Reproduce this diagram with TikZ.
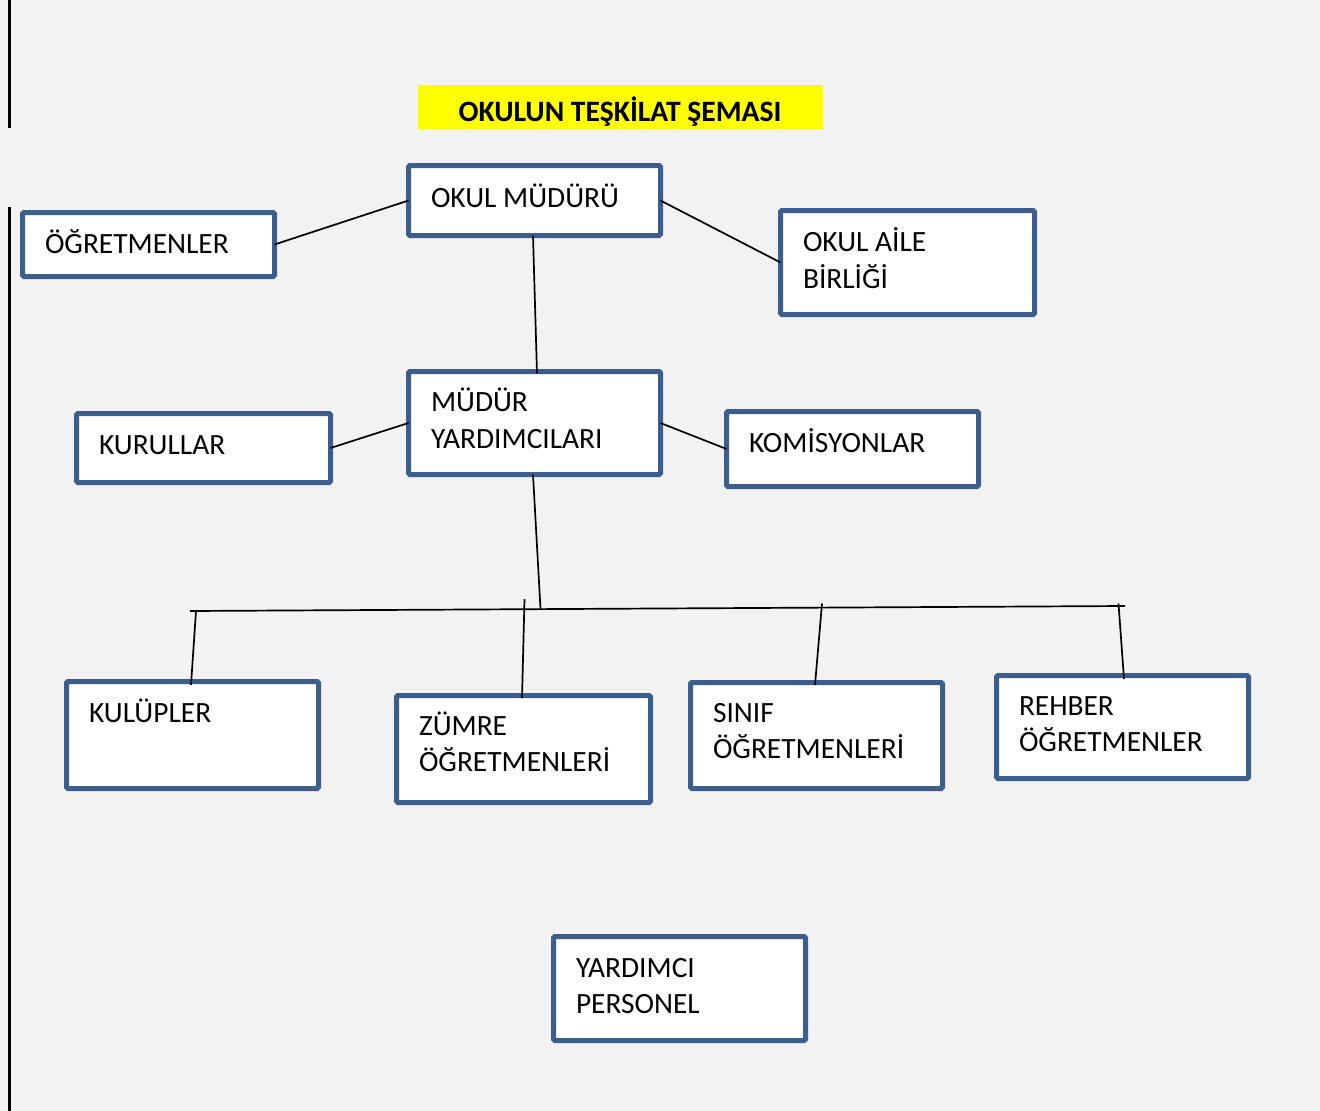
\documentclass[tikz,border=0pt]{standalone}
\usepackage{fontspec}
\setmainfont{Carlito}
\usetikzlibrary{calc}
\definecolor{bgcol}{RGB}{242,242,242}
\definecolor{boxcol}{RGB}{60,94,142}
\definecolor{titlecol}{RGB}{255,255,0}
\tikzset{
  box/.style={draw=boxcol, fill=white, line width=5pt, rounded corners=1.5pt,
    inner sep=0pt, outer sep=0pt, rectangle},
  lbl/.style={anchor=base west, inner sep=0pt, outer sep=0pt,
    font=\fontsize{29.4}{36}\selectfont},
  ttl/.style={anchor=base, inner sep=0pt, outer sep=0pt,
    font=\fontsize{29.6}{36}\selectfont\bfseries},
  conn/.style={draw=black, line width=1.7pt},
  edge/.style={draw=black, line width=3pt}
}
\begin{document}
\begin{tikzpicture}[x=1pt,y=-1pt]
\useasboundingbox (0,0) rectangle (1320,1111);
\fill[bgcol] (0,0) rectangle (1320,1111);
% left margin rule
\draw[edge] (9.5,0) -- (9.5,128);
\draw[edge] (9.5,207) -- (9.5,1111);
% title
\fill[titlecol] (418,85) rectangle (823,129);
\node[ttl] (title) at (620,121.5) {OKULUN TEŞKİLAT ŞEMASI};
% boxes (centre, width, height of stroke path)
\node[box, minimum width=252pt, minimum height=70pt] (om)  at (534.5,200.5) {};
\node[box, minimum width=252pt, minimum height=64pt] (ogr) at (148.5,244.5) {};
\node[box, minimum width=254pt, minimum height=104pt] (oab) at (907.5,262.5) {};
\node[box, minimum width=252pt, minimum height=103pt] (my)  at (534.5,423) {};
\node[box, minimum width=254pt, minimum height=69pt] (kur) at (203.5,448) {};
\node[box, minimum width=252pt, minimum height=75pt] (kom) at (852.5,449) {};
\node[box, minimum width=252pt, minimum height=107pt] (kul) at (192.5,735) {};
\node[box, minimum width=254pt, minimum height=107pt] (zum) at (523.5,749) {};
\node[box, minimum width=252pt, minimum height=106pt] (sin) at (816.5,735.5) {};
\node[box, minimum width=252pt, minimum height=103pt] (reh) at (1122.5,727) {};
\node[box, minimum width=252pt, minimum height=104pt] (yp)  at (679.5,988.5) {};
% labels
\node[lbl] (om-t)   at (431,207) {OKUL MÜDÜRÜ};
\node[lbl] (ogr-t)  at (45,253) {ÖĞRETMENLER};
\node[lbl] (oab-t1) at (803,251) {OKUL AİLE};
\node[lbl] (oab-t2) at (803,288) {BİRLİĞİ};
\node[lbl] (my-t1)  at (431,411.5) {MÜDÜR};
\node[lbl] (my-t2)  at (431,448) {YARDIMCILARI};
\node[lbl] (kur-t)  at (99,454) {KURULLAR};
\node[lbl] (kom-t)  at (749,452) {KOMİSYONLAR};
\node[lbl] (kul-t)  at (89,722) {KULÜPLER};
\node[lbl] (zum-t1) at (419,735) {ZÜMRE};
\node[lbl] (zum-t2) at (419,771.5) {ÖĞRETMENLERİ};
\node[lbl] (sin-t1) at (713,722.5) {SINIF};
\node[lbl] (sin-t2) at (713,758.5) {ÖĞRETMENLERİ};
\node[lbl] (reh-t1) at (1019,715) {REHBER};
\node[lbl] (reh-t2) at (1019,751.5) {ÖĞRETMENLER};
\node[lbl] (yp-t1)  at (576,977.5) {YARDIMCI};
\node[lbl] (yp-t2)  at (576,1013) {PERSONEL};
% bus coordinates
\coordinate (busL) at (190,611);
\coordinate (busR) at (1125,606);
\coordinate (jmy)  at (540.5,608.8);
\coordinate (jkul) at (196,611);
\coordinate (jzum) at (524.5,599);
\coordinate (jsin) at (822,603.5);
\coordinate (jreh) at (1118.5,603.5);
% connectors
\draw[conn] (ogr.east) -- (om.west);
\draw[conn] (om.east) -- (oab.west);
\draw[conn] ($(om.south)+(-1.5,0)$) -- ($(my.north)+(2.5,2)$);
\draw[conn] (kur.east) -- (my.west);
\draw[conn] (my.east) -- (kom.west);
\draw[conn] ($(my.south)+(-1.5,0)$) -- (jmy);
\draw[conn] (busL) -- (busR);
\draw[conn] (jkul) -- ($(kul.north)+(-1.5,3.5)$);
\draw[conn] (jzum) -- ($(zum.north)+(-1.5,2.5)$);
\draw[conn] (jsin) -- ($(sin.north)+(-1.5,2.5)$);
\draw[conn] (jreh) -- ($(reh.north)+(1.5,3.5)$);
\end{tikzpicture}
\end{document}
